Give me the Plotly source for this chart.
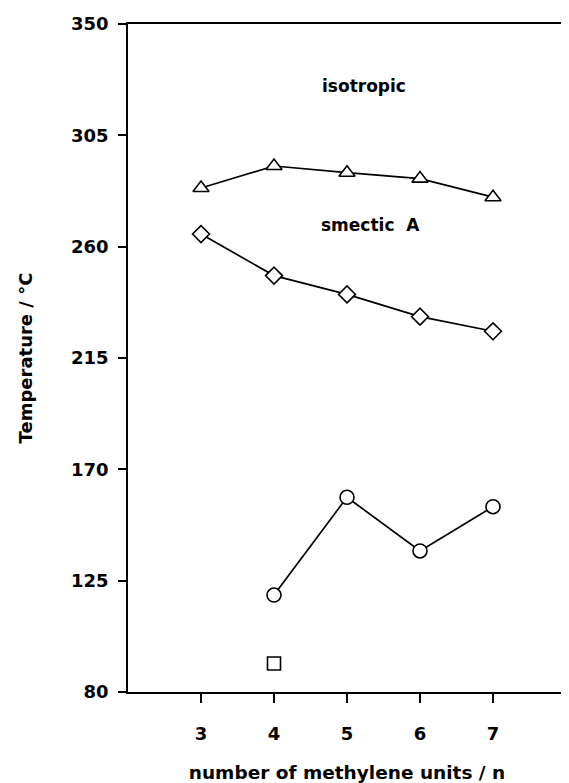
import plotly.graph_objects as go

n_iso = [3, 4, 5, 6, 7]
t_iso = [283.7, 292.6, 289.9, 287.5, 280.0]
n_sma = [3, 4, 5, 6, 7]
t_sma = [265.1, 248.3, 240.7, 231.7, 225.8]
n_cr = [4, 5, 6, 7]
t_cr = [119.2, 158.7, 137.0, 154.9]
n_sq = [4]
t_sq = [91.5]

x_ticks = [3, 4, 5, 6, 7]
y_ticks = [80, 125, 170, 215, 260, 305, 350]

FONT = "DejaVu Sans, Liberation Sans, Arial, sans-serif"

fig = go.Figure()

def add(xs, ys, sym, size, mode):
    fig.add_trace(go.Scatter(
        x=xs, y=ys, mode=mode,
        line=dict(color="black", width=1.7),
        marker=dict(symbol=sym, size=size, color="white",
                    line=dict(color="black", width=1.6)),
        showlegend=False, cliponaxis=False))

add(n_iso, t_iso, "triangle-up", 14, "lines+markers")
add(n_sma, t_sma, "diamond", 13, "lines+markers")
add(n_cr, t_cr, "circle", 14, "lines+markers")
add(n_sq, t_sq, "square", 13, "markers")

fig.add_annotation(x=5.23, y=325, text="isotropic", showarrow=False,
                   font=dict(family=FONT, size=17, color="black", weight="bold"))
fig.add_annotation(x=5.32, y=268.8, text="smectic  A", showarrow=False,
                   font=dict(family=FONT, size=17, color="black", weight="bold"))

fig.update_xaxes(range=[2, 8], tickvals=x_ticks, ticktext=[str(v) for v in x_ticks],
                 showline=True, linecolor="black", linewidth=1.5, mirror=True,
                 ticks="outside", ticklen=9, tickwidth=1.5, tickcolor="black",
                 showgrid=False, zeroline=False, ticklabelstandoff=16,
                 tickfont=dict(family=FONT, size=18, color="black", weight="bold"),
                 title=dict(text="number of methylene units / n", standoff=23,
                            font=dict(family=FONT, size=18.5, color="black", weight="bold")))
fig.update_yaxes(range=[80, 350], tickvals=y_ticks, ticktext=[str(v) for v in y_ticks],
                 showline=True, linecolor="black", linewidth=1.5, mirror=True,
                 ticks="outside", ticklen=8, tickwidth=1.5, tickcolor="black",
                 showgrid=False, zeroline=False, ticklabelstandoff=6,
                 tickfont=dict(family=FONT, size=18, color="black", weight="bold"),
                 title=dict(text="Temperature / °C", standoff=34,
                            font=dict(family=FONT, size=18, color="black", weight="bold")))

# page body has an 8px margin, so the figure is 8px smaller and shifted
fig.update_layout(width=561, height=775, plot_bgcolor="white", paper_bgcolor="white",
                  margin=dict(l=120, r=3, t=16, b=91, autoexpand=False))

fig.write_html("out.html")
